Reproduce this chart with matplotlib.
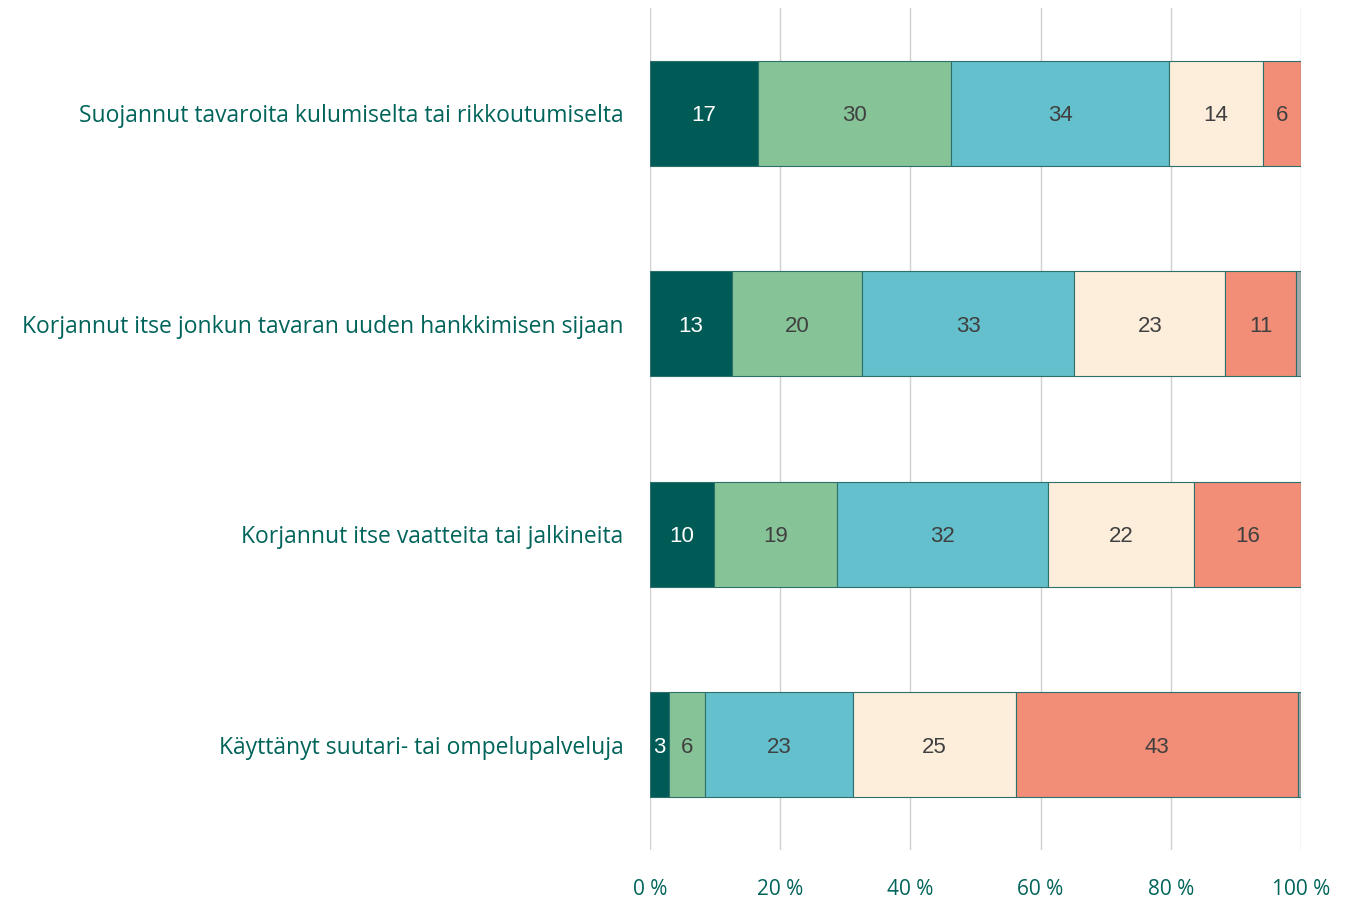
import matplotlib
matplotlib.use("Agg")
import matplotlib.pyplot as plt
import numpy as np

categories = [
    "Suojannut tavaroita kulumiselta tai rikkoutumiselta",
    "Korjannut itse jonkun tavaran uuden hankkimisen sijaan",
    "Korjannut itse vaatteita tai jalkineita",
    "Käyttänyt suutari- tai ompelupalveluja",
]
series_names = ["Sarja 1", "Sarja 2", "Sarja 3", "Sarja 4", "Sarja 5", "Sarja 6"]
s1 = [16.6, 12.6, 9.8, 2.9]
s2 = [29.6, 20.0, 19.0, 5.6]
s3 = [33.6, 32.6, 32.4, 22.7]
s4 = [14.3, 23.2, 22.4, 25.0]
s5 = [5.9, 10.9, 16.4, 43.4]
s6 = [0.0, 0.7, 0.0, 0.4]
series = [s1, s2, s3, s4, s5, s6]
colors = ["#005a55", "#86c497", "#63c0cc", "#fdeedc", "#f28e77", "#a0a8a8"]
label_colors = ["white", "#404040", "#404040", "#404040", "#404040", "#404040"]
xticks = [0, 20, 40, 60, 80, 100]
xtick_labels = ["0 %", "20 %", "40 %", "60 %", "80 %", "100 %"]

fig = plt.figure(figsize=(13.62, 8.98), dpi=100)
ax = fig.add_axes([650/1362, 1-850/898, (1301-650)/1362, (850-8)/898])

y = np.arange(len(categories))
left = np.zeros(len(categories))
for vals, col, lc, name in zip(series, colors, label_colors, series_names):
    vals = np.array(vals)
    ax.barh(y, vals, left=left, height=0.5, color=col, edgecolor="#2f6f6b",
            linewidth=0.8, label=name, zorder=3)
    for yi, (l, v) in enumerate(zip(left, vals)):
        if v >= 1:
            ax.text(l + v/2, yi, f"{v:.0f}", ha="center", va="center_baseline",
                    color=lc, fontsize=16, family="Liberation Sans", zorder=4)
    left = left + vals

ax.set_xlim(0, 100)
ax.set_ylim(3.5, -0.5)
ax.set_xticks(xticks)
ax.set_xticklabels(xtick_labels, family="Open Sans", fontsize=15, color="#00645a")
ax.set_yticks(y)
ax.set_yticklabels(categories, family="Open Sans", fontsize=16.5, color="#00645a")
ax.tick_params(axis="both", length=0)
ax.tick_params(axis="x", pad=21)
ax.tick_params(axis="y", pad=19)
for s in ax.spines.values():
    s.set_visible(False)
ax.xaxis.grid(True, color="#d0d0d0", linewidth=1, zorder=0)
ax.set_axisbelow(True)

fig.savefig("out.png", dpi=100)
